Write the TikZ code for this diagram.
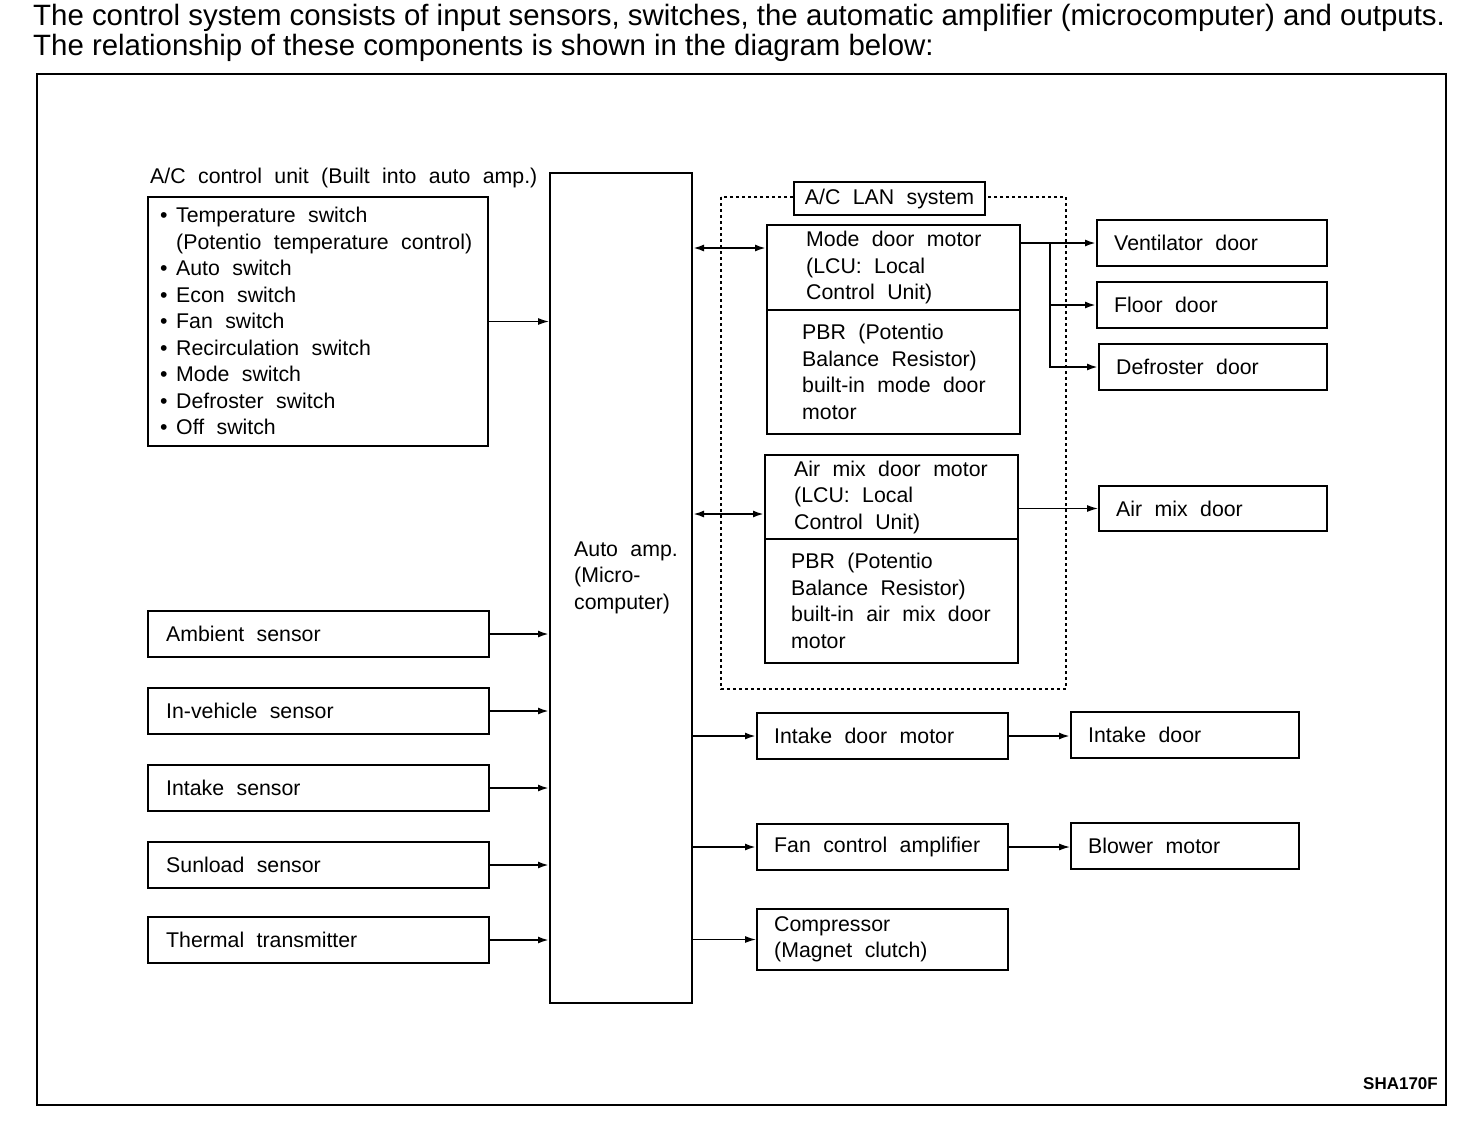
\documentclass[tikz,border=0pt]{standalone}
\usepackage{fontspec}
\setmainfont{Liberation Sans}
\newfontfamily\bodyfam[WordSpace=2.1]{Liberation Sans}
\usetikzlibrary{arrows.meta}
\newcommand\bodyf{\bodyfam\fontsize{21.3}{26.5}\selectfont}
\newcommand\titlef{\fontsize{29.4}{30}\selectfont}
\newcommand\bl{\makebox[16pt][l]{\textbullet}}
\newcommand\nobl{\hspace*{16pt}}
\begin{document}
\begin{tikzpicture}[x=1pt,y=-1pt,
  box/.style={draw, line width=2pt, inner sep=0pt},
  txt/.style={font=\bodyf, inner sep=0pt, align=left, anchor=west},
  arr/.style={line width=2pt, -{Latex[length=11pt,width=7pt]}},
  thinarr/.style={line width=1.3pt, -{Latex[length=11pt,width=7pt]}},
  dbl/.style={line width=2pt, {Latex[length=11pt,width=7pt]}-{Latex[length=11pt,width=7pt]}},
  lanbox/.style={line width=1.5pt, dash pattern=on 3pt off 3pt}]
\useasboundingbox (0,0) rectangle (1472,1120);
\fill[white] (0,0) rectangle (1472,1120);
% title
\node[anchor=base west, inner sep=0pt, font=\titlef] (t1) at (33,25) {The control system consists of input sensors, switches, the automatic amplifier (microcomputer) and outputs.};
\node[anchor=base west, inner sep=0pt, font=\titlef] (t2) at (33,55) {The relationship of these components is shown in the diagram below:};
% frame
\draw[line width=2pt] (37,74) rectangle (1446,1105);
% control unit
\node[txt] (ctrlL) at (150,178) {A/C control unit (Built into auto amp.)};
\node[box, minimum width=340pt, minimum height=249pt] (ctrl) at (318,321.5) {};
\node[txt] (ctrlT) at (160,321) {\bl Temperature switch\\ \nobl (Potentio temperature control)\\ \bl Auto switch\\ \bl Econ switch\\ \bl Fan switch\\ \bl Recirculation switch\\ \bl Mode switch\\ \bl Defroster switch\\ \bl Off switch};
% auto amp
\node[box, minimum width=142pt, minimum height=830pt] (amp) at (621,588) {};
\node[txt] (ampT) at (574,577.5) {Auto amp.\\(Micro-\\computer)};
\draw[thinarr] (ctrl.east) -- (ctrl.east -| amp.west);
% sensors
\foreach \n/\y/\t in {amb/634/Ambient sensor, inv/711/In-vehicle sensor, ins/788/Intake sensor, sun/865/Sunload sensor, thr/940/Thermal transmitter} {
  \node[box, minimum width=341pt, minimum height=46pt] (\n) at (318.5,\y) {};
  \node[txt] (\n-t) at ([xshift=19pt]\n.west) {\t};
  \draw[arr] (\n.east) -- (\n.east -| amp.west);
}
% LAN system
\draw[lanbox] (721,197) rectangle (1066,689);
\node[box, fill=white, minimum width=191pt, minimum height=33pt, font=\bodyf] (lan) at (889.5,198.5) {A/C LAN system};
% mode door motor
\node[box, minimum width=253pt, minimum height=85pt] (modeU) at (893.5,267.5) {};
\node[box, minimum width=253pt, minimum height=124pt] (modeL) at (893.5,372) {};
\node[txt] (modeU-t) at ([xshift=40pt]modeU.west) {Mode door motor\\(LCU: Local\\Control Unit)};
\node[txt] (modeL-t) at ([xshift=36pt]modeL.west) {PBR (Potentio\\Balance Resistor)\\built-in mode door\\motor};
\draw[dbl] ([yshift=19.5pt]modeU.west -| amp.east) -- ([yshift=19.5pt]modeU.west);
% doors
\node[box, minimum width=230pt, minimum height=46pt] (vent) at (1212,243) {};
\node[txt] (vent-t) at ([xshift=18pt]vent.west) {Ventilator door};
\node[box, minimum width=230pt, minimum height=46pt] (floor) at (1212,305) {};
\node[txt] (floor-t) at ([xshift=18pt]floor.west) {Floor door};
\node[box, minimum width=228pt, minimum height=46pt] (defr) at (1213,367) {};
\node[txt] (defr-t) at ([xshift=18pt]defr.west) {Defroster door};
\draw[arr] (vent.west -| modeU.east) -- (vent.west);
\coordinate (br) at (1050,243);
\draw[arr] (br) |- (floor.west);
\draw[arr] (br) |- (defr.west);
% air mix door motor
\node[box, minimum width=253pt, minimum height=84pt] (airU) at (891.5,497) {};
\node[box, minimum width=253pt, minimum height=124pt] (airL) at (891.5,601) {};
\node[txt] (airU-t) at ([xshift=30pt]airU.west) {Air mix door motor\\(LCU: Local\\Control Unit)};
\node[txt] (airL-t) at ([xshift=27pt]airL.west) {PBR (Potentio\\Balance Resistor)\\built-in air mix door\\motor};
\draw[dbl] ([yshift=-17pt]airU.west -| amp.east) -- ([yshift=-17pt]airU.west);
\node[box, minimum width=228pt, minimum height=45pt] (adoor) at (1213,508.5) {};
\node[txt] (adoor-t) at ([xshift=18pt]adoor.west) {Air mix door};
\draw[thinarr] (adoor.west -| airU.east) -- (adoor.west);
% intake door motor
\node[box, minimum width=251pt, minimum height=46pt] (idm) at (882.5,736) {};
\node[txt] (idm-t) at ([xshift=18pt]idm.west) {Intake door motor};
\node[box, minimum width=228pt, minimum height=46pt] (idoor) at (1185,735) {};
\node[txt] (idoor-t) at ([xshift=18pt]idoor.west) {Intake door};
\draw[arr] (amp.east |- idm.west) -- (idm.west);
\draw[arr] (idm.east) -- (idm.east -| idoor.west);
% fan control amplifier
\node[box, minimum width=251pt, minimum height=46pt] (fca) at (882.5,847) {};
\node[txt] (fca-t) at ([xshift=18pt]fca.west) {Fan control amplifier};
\node[box, minimum width=228pt, minimum height=46pt] (blow) at (1185,846) {};
\node[txt] (blow-t) at ([xshift=18pt]blow.west) {Blower motor};
\draw[arr] (amp.east |- fca.west) -- (fca.west);
\draw[thinarr] (fca.east) -- (fca.east -| blow.west);
% compressor
\node[box, minimum width=251pt, minimum height=61pt] (comp) at (882.5,939.5) {};
\node[txt] (comp-t) at ([xshift=18pt]comp.west) {Compressor\\(Magnet clutch)};
\draw[thinarr] (amp.east |- comp.west) -- (comp.west);
% code
\node[anchor=east, inner sep=0pt, font=\bfseries\fontsize{17}{20}\selectfont] (code) at (1438,1084) {SHA170F};
\end{tikzpicture}
\end{document}
